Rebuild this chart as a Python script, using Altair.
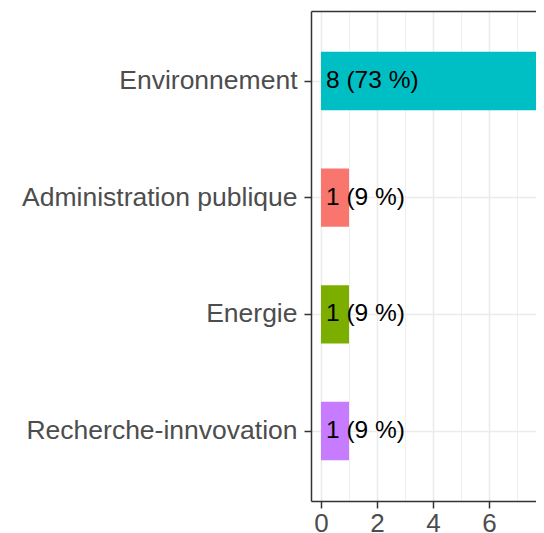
import altair as alt
import pandas as pd

categories = ["Environnement", "Administration publique", "Energie", "Recherche-innvovation"]
counts = [8, 1, 1, 1]
percents = [73, 9, 9, 9]
colors = ["#00BFC4", "#F8766D", "#7CAE00", "#C77CFF"]
x_major = [0, 2, 4, 6, 8]
x_minor = [1, 3, 5, 7]

df = pd.DataFrame({"cat": categories, "n": counts, "pct": percents})
df["label"] = [f"{n} ({p} %)" for n, p in zip(counts, percents)]
df["zero"] = 0

FONT = "Liberation Sans"
W, H = 225, 490

# the reference panel runs past the right edge of the picture: the x range is
# wider than the visible plot width, so the overflow is clipped like the original
xscale = alt.Scale(domain=[-0.357, 8.0], range=[0, 234], nice=False, zero=False)
yscale = alt.Scale(domain=categories, paddingInner=0.5, paddingOuter=0.35)

yenc = alt.Y(
    "cat:N",
    scale=yscale,
    sort=categories,
    axis=alt.Axis(
        title=None,
        grid=True,
        gridColor="#EBEBEB",
        gridWidth=1.6,
        labelFont=FONT,
        labelFontSize=26.5,
        labelColor="#4D4D4D",
        labelPadding=7,
        labelLimit=400,
        tickSize=7,
        tickWidth=1.5,
        tickColor="#333333",
        domainColor="#333333",
        domainWidth=1.5,
    ),
)

bars = alt.Chart(df).mark_bar().encode(
    x=alt.X(
        "n:Q",
        scale=xscale,
        axis=alt.Axis(
            values=x_major,
            title=None,
            grid=True,
            gridColor="#EBEBEB",
            gridWidth=1.6,
            labelFont=FONT,
            labelFontSize=26,
            labelColor="#4D4D4D",
            labelPadding=2,
            tickSize=7,
            tickWidth=1.5,
            tickColor="#333333",
            domainColor="#333333",
            domainWidth=1.5,
            labelFlush=False,
        ),
    ),
    x2=alt.X2("zero:Q"),
    y=yenc,
    color=alt.Color("cat:N", scale=alt.Scale(domain=categories, range=colors), legend=None),
)

texts = alt.Chart(df).mark_text(
    align="left", baseline="middle", dx=5, fontSize=24.5, font=FONT, color="black"
).encode(
    x=alt.X(
        "zero:Q",
        scale=xscale,
        axis=alt.Axis(
            orient="top",
            values=x_minor,
            title=None,
            grid=True,
            gridColor="#EBEBEB",
            gridWidth=0.8,
            labels=False,
            ticks=False,
            domain=True,
            domainColor="#333333",
            domainWidth=1.5,
        ),
    ),
    y=yenc,
    text="label:N",
)

chart = (
    alt.layer(bars, texts)
    .resolve_axis(x="independent")
    .properties(
        width=W,
        height=H,
        autosize=alt.AutoSizeParams(type="none"),
        padding={"left": 303, "top": 3, "right": 0, "bottom": 32},
        background="white",
    )
    .configure_view(stroke=None)
)

chart.save("out.html", embed_options={"renderer": "svg", "actions": False})
